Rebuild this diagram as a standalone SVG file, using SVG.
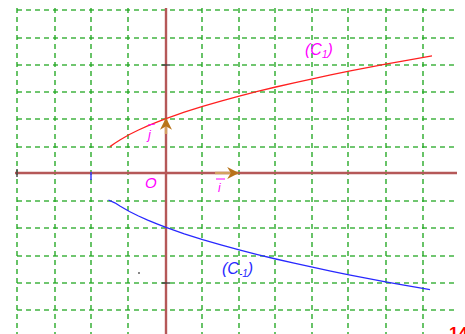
<svg xmlns="http://www.w3.org/2000/svg" width="465" height="334" viewBox="0 0 465 334">
<style>
.grid line{stroke:#22a822;stroke-width:1.6;stroke-dasharray:5 4;opacity:0.85}
.axis{stroke:#b55858;stroke-width:2.4}
.curve{fill:none;stroke-width:1.3;stroke-linejoin:round}
.lbl{font-family:"Liberation Sans",Arial,sans-serif;font-style:italic}
.tick{stroke:#404040;stroke-width:1.4}
.vec{stroke:#d4a060;stroke-width:2.4}
</style>
<defs>
<marker id="ah" viewBox="0 0 10 10" refX="9" refY="5" markerWidth="5" markerHeight="5" orient="auto" markerUnits="strokeWidth">
<path d="M0,0 L10,5 L0,10 L3,5 Z" fill="#b8741a"/>
</marker>
</defs>
<rect width="465" height="334" fill="#ffffff"/>
<g id="grid" class="grid">
<line x1="17" y1="10" x2="457" y2="10"/>
<line x1="17" y1="38" x2="457" y2="38"/>
<line x1="17" y1="65" x2="457" y2="65"/>
<line x1="17" y1="92" x2="457" y2="92"/>
<line x1="17" y1="119" x2="457" y2="119"/>
<line x1="17" y1="147" x2="457" y2="147"/>
<line x1="17" y1="201" x2="457" y2="201"/>
<line x1="17" y1="228" x2="457" y2="228"/>
<line x1="17" y1="256" x2="457" y2="256"/>
<line x1="17" y1="283" x2="457" y2="283"/>
<line x1="17" y1="310" x2="457" y2="310"/>
<line x1="17" y1="8" x2="17" y2="334"/>
<line x1="55" y1="8" x2="55" y2="334"/>
<line x1="91" y1="8" x2="91" y2="334"/>
<line x1="128" y1="8" x2="128" y2="334"/>
<line x1="202" y1="8" x2="202" y2="334"/>
<line x1="239" y1="8" x2="239" y2="334"/>
<line x1="275" y1="8" x2="275" y2="334"/>
<line x1="312" y1="8" x2="312" y2="334"/>
<line x1="348" y1="8" x2="348" y2="334"/>
<line x1="386" y1="8" x2="386" y2="334"/>
<line x1="423" y1="8" x2="423" y2="334"/>
</g>
<g id="axes">
<line class="axis" x1="15" y1="173" x2="457" y2="173"/>
<line class="axis" x1="166" y1="8" x2="166" y2="334"/>
<line class="tick" x1="17" y1="169" x2="17" y2="177"/>
<line class="tick" x1="162" y1="65" x2="170" y2="65"/>
<line class="tick" x1="162" y1="283" x2="170" y2="283"/>
<line x1="91" y1="172" x2="91" y2="180" stroke="#3030ff" stroke-width="1.4"/>
<rect x="138" y="272" width="2" height="2" fill="#888888"/>
</g>
<g id="curve-c1">
<path class="curve" stroke="#ff2020" d="M110,146.6 L114.8,143.2 L120.3,139.7 L129.4,134.5 L138.5,130 L147.7,125.9 L156.9,122.2 L166,118.6 L184.3,112.2 L202.6,106.4 L220.9,101.1 L239.2,96.1 L257.5,91.4 L275.8,87 L294.1,82.8 L312.4,78.8 L330.7,74.9 L349,71.2 L367.3,67.6 L385.6,64.2 L404,60.9 L432,55.9"/>
</g>
<g id="curve-cm1">
<path class="curve" stroke="#2828ff" d="M108.5,200 L114.8,202.8 L120.3,206.3 L129.4,211.5 L138.5,216 L147.7,220.1 L156.9,223.8 L166,227.4 L184.3,233.8 L202.6,239.6 L220.9,244.9 L239.2,249.9 L257.5,254.6 L275.8,259 L294.1,263.2 L312.4,267.2 L330.7,271.1 L349,274.8 L367.3,278.4 L385.6,281.8 L404,285.1 L430,289.6"/>
</g>
<g id="connectors">
<line class="vec" x1="215" y1="173" x2="238" y2="173" marker-end="url(#ah)"/>
<line class="vec" x1="166" y1="134" x2="166" y2="119" marker-end="url(#ah)"/>
</g>
<g id="labels">
<text class="lbl" x="145" y="188" font-size="15" fill="#ff00ff">O</text>
<line x1="216" y1="179" x2="225" y2="179" stroke="#ff00ff" stroke-width="1"/>
<text class="lbl" x="218" y="192" font-size="12" fill="#ff00ff">i</text>
<line x1="148" y1="125" x2="155" y2="124" stroke="#ff00ff" stroke-width="1"/>
<text class="lbl" x="148" y="139" font-size="13" fill="#ff00ff">j</text>
<text class="lbl" x="305" y="55" font-size="16" fill="#ff00ff">(C<tspan font-size="10" dy="3">1</tspan><tspan dy="-3">)</tspan></text>
<text class="lbl" x="222" y="274" font-size="16" fill="#2828ff">(C<tspan font-size="10" dy="3">-1</tspan><tspan dy="-3">)</tspan></text>
<text x="449" y="339" font-family="Liberation Sans,Arial,sans-serif" font-weight="bold" font-size="17" fill="#ff0000">14</text>
</g>
</svg>
